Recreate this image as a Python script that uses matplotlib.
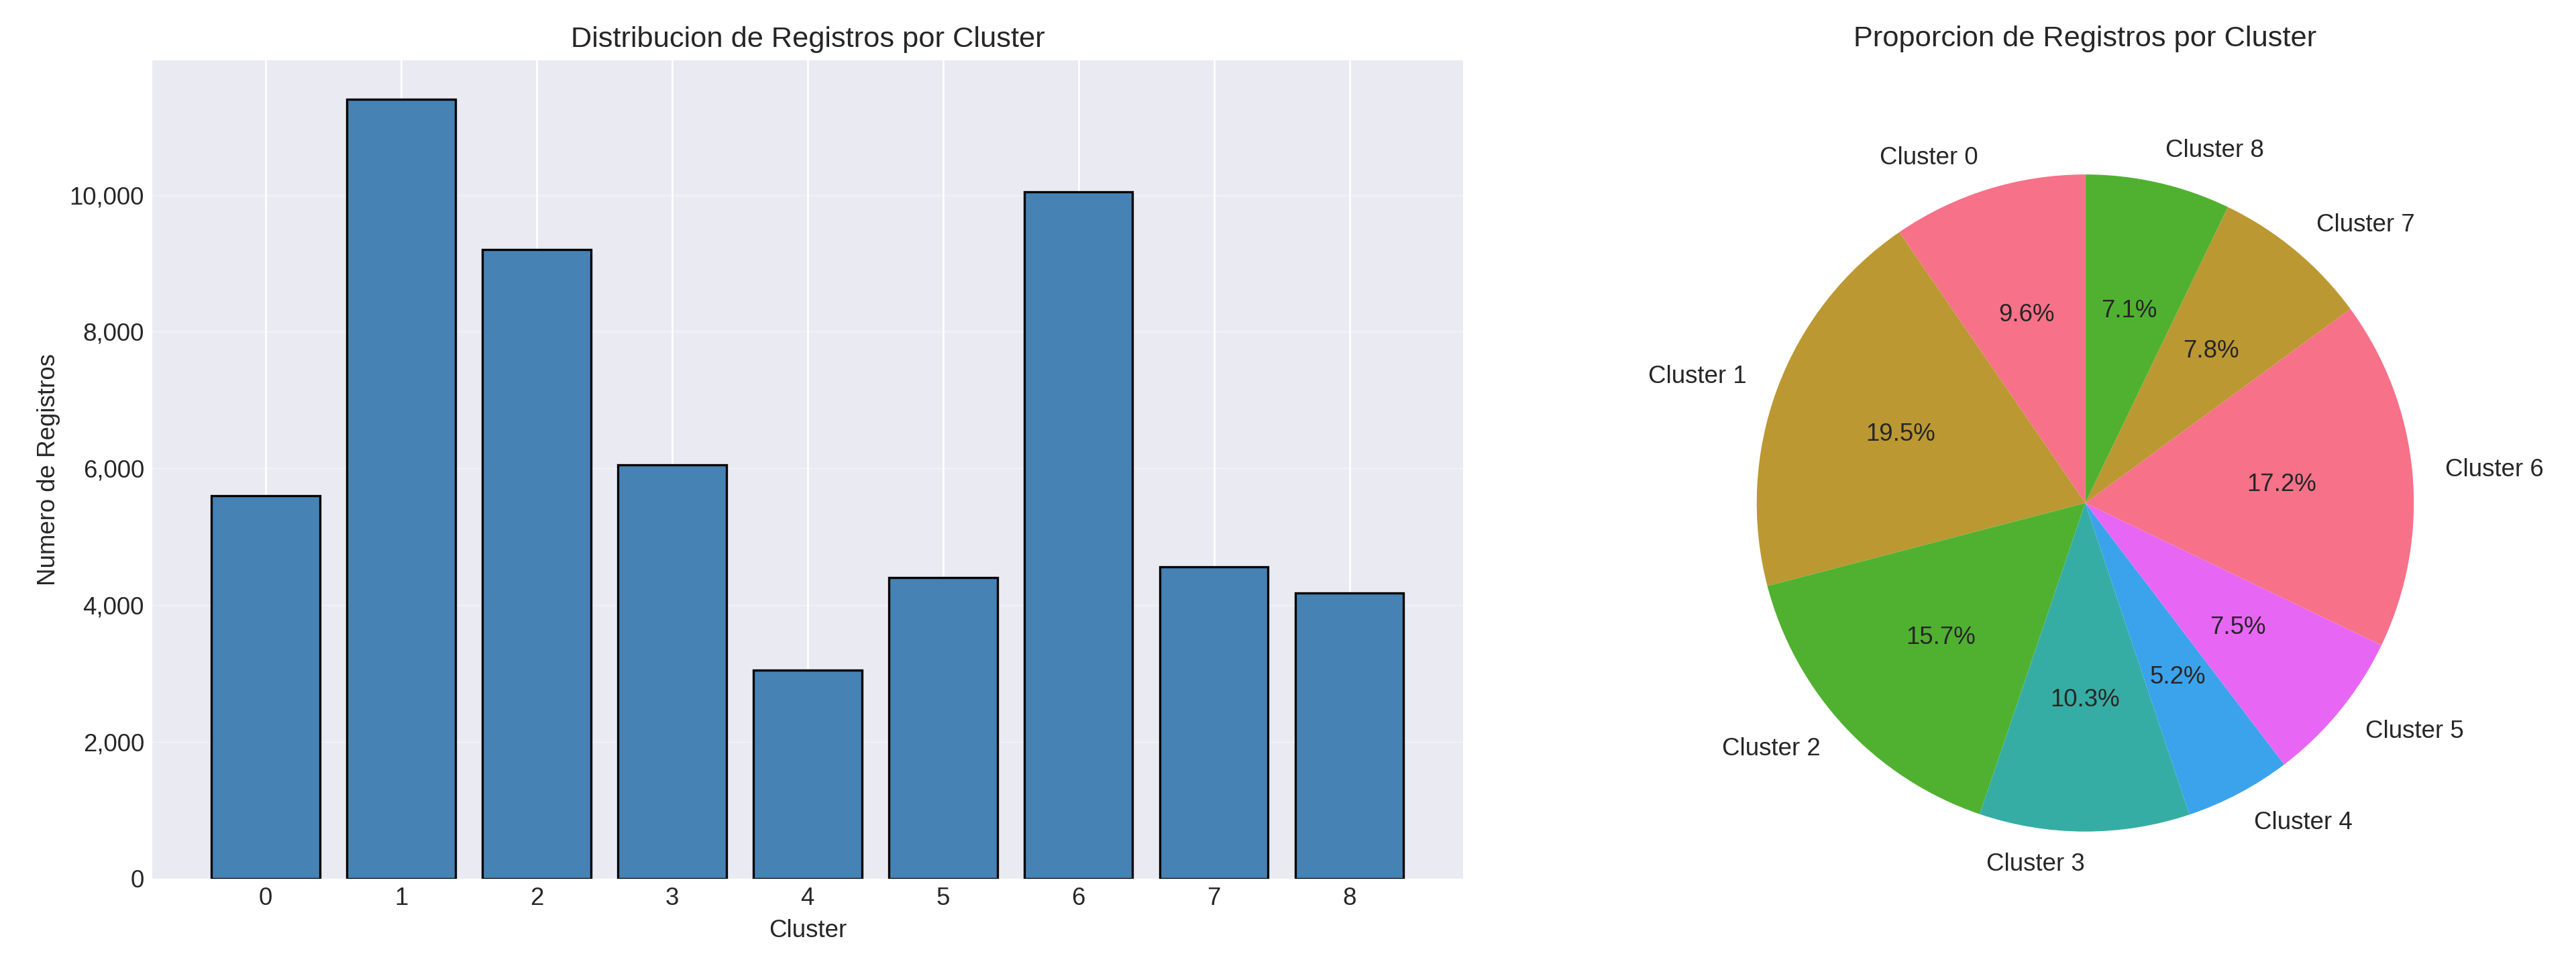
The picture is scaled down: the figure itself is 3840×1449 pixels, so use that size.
import matplotlib
matplotlib.use("Agg")
import matplotlib.pyplot as plt
import seaborn as sns
from matplotlib.ticker import FuncFormatter

plt.style.use("seaborn-v0_8-darkgrid")

clusters = [0, 1, 2, 3, 4, 5, 6, 7, 8]
counts = [5600, 11400, 9200, 6050, 3050, 4400, 10050, 4560, 4180]
labels = [f"Cluster {c}" for c in clusters]

fig = plt.figure(figsize=(16, 6.0375))
ax1 = fig.add_axes([0.059, 0.096, 0.509, 0.842])
ax2 = fig.add_axes([0.65, 0.06, 0.319, 0.845])

ax1.bar(clusters, counts, color="steelblue", edgecolor="black")
ax1.set_title("Distribucion de Registros por Cluster", fontsize=13)
ax1.set_xlabel("Cluster", fontsize=11)
ax1.set_ylabel("Numero de Registros", fontsize=11)
ax1.set_xticks(clusters)
ax1.grid(axis="y", alpha=0.3)
ax1.yaxis.set_major_formatter(FuncFormatter(lambda v, p: f"{int(v):,}"))
ax1.tick_params(labelsize=11)

colors = sns.color_palette("husl", 6)
ax2.pie(counts, labels=labels, autopct="%1.1f%%", startangle=90,
        colors=colors, textprops={"fontsize": 11})
ax2.set_xlim(-1.25, 1.25)
ax2.set_ylim(-1.25, 1.25)
ax2.set_aspect("equal")
ax2.set_title("Proporcion de Registros por Cluster", fontsize=13, y=1.04)

fig.savefig("out.png", dpi=240)
